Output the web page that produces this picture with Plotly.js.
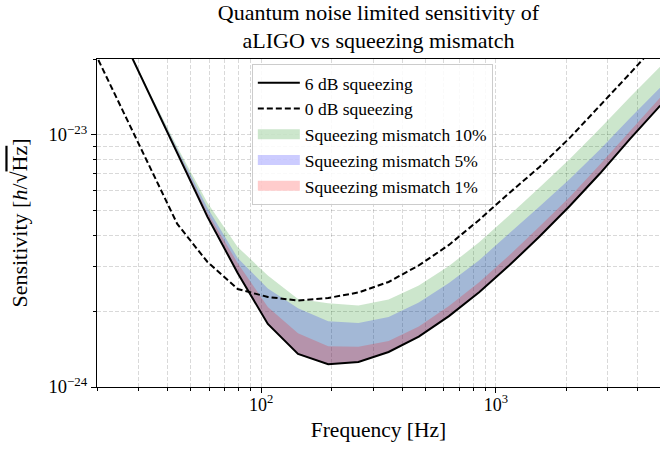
<!DOCTYPE html>
<html><head><meta charset="utf-8">
<script src="https://cdn.plot.ly/plotly-3.0.1.min.js"></script>
<style>html,body{margin:0;padding:0;background:#fff}</style>
</head><body>
<div id="chart" style="width:660px;height:450px"></div>
<script>
// Frequency grid [Hz]
const freq = [18.07, 24.30, 32.68, 43.94, 59.09, 79.43, 106.8, 143.6, 193.1, 259.6,
              349.1, 469.4, 631.0, 848.5, 1141, 1534, 2063, 2774, 3728, 5012];
// Sensitivity [1/sqrt(Hz)]
const sq6dB = [48.6e-24, 27.2e-24, 15.18e-24, 8.48e-24, 4.73e-24, 2.835e-24, 1.778e-24, 1.352e-24, 1.231e-24, 1.256e-24,
               1.377e-24, 1.585e-24, 1.911e-24, 2.376e-24, 3.038e-24, 3.951e-24, 5.223e-24, 7.026e-24, 9.64e-24, 13.07e-24];
const sq0dB = [24.75e-24, 13.94e-24, 7.87e-24, 4.434e-24, 3.133e-24, 2.448e-24, 2.275e-24, 2.204e-24, 2.255e-24, 2.371e-24,
               2.610e-24, 3.035e-24, 3.66e-24, 4.60e-24, 5.886e-24, 7.46e-24, 9.73e-24, 13.03e-24, 17.54e-24, 23.76e-24];
const mis10 = [48.6e-24, 27.33e-24, 15.46e-24, 8.96e-24, 5.376e-24, 3.595e-24, 2.770e-24, 2.235e-24, 2.150e-24, 2.105e-24,
               2.225e-24, 2.526e-24, 3.018e-24, 3.752e-24, 4.798e-24, 6.183e-24, 8.024e-24, 10.60e-24, 14.15e-24, 18.67e-24];
const mis5  = [48.6e-24, 27.27e-24, 15.39e-24, 8.80e-24, 5.136e-24, 3.252e-24, 2.459e-24, 2.052e-24, 1.823e-24, 1.794e-24,
               1.896e-24, 2.162e-24, 2.583e-24, 3.183e-24, 4.069e-24, 5.197e-24, 6.684e-24, 8.749e-24, 11.68e-24, 15.41e-24];
const mis1  = [48.6e-24, 27.25e-24, 15.32e-24, 8.676e-24, 4.906e-24, 3.106e-24, 2.077e-24, 1.634e-24, 1.451e-24, 1.444e-24,
               1.523e-24, 1.737e-24, 2.094e-24, 2.603e-24, 3.328e-24, 4.329e-24, 5.671e-24, 7.629e-24, 10.37e-24, 14.06e-24];

const seriesNames = ['6 dB squeezing', '0 dB squeezing', 'Squeezing mismatch 10%', 'Squeezing mismatch 5%', 'Squeezing mismatch 1%'];
const xMajorTicks = [100, 1000];
const xMajorLabels = ['10<sup>2</sup>', '10<sup>3</sup>'];
const xMinorTicks = [20, 30, 40, 50, 60, 70, 80, 90, 200, 300, 400, 500, 600, 700, 800, 900, 2000, 3000, 4000];
const yMajorTicks = [1e-24, 1e-23];
const yMajorLabels = ['10<sup>\u221224</sup>', '10<sup>\u221223</sup>'];
const yMinorTicks = [2e-24, 3e-24, 4e-24, 5e-24, 6e-24, 7e-24, 8e-24, 9e-24, 2e-23];

const FONT = 'Liberation Serif, Times New Roman, serif';
const bands = [
  {y: mis10, color: 'rgba(0,128,0,0.2)', name: seriesNames[2], rank: 3},
  {y: mis5,  color: 'rgba(0,0,255,0.2)', name: seriesNames[3], rank: 4},
  {y: mis1,  color: 'rgba(255,0,0,0.2)', name: seriesNames[4], rank: 5}
];
const data = [];
bands.forEach((b) => {
  data.push({x: freq, y: sq6dB, type: 'scatter', mode: 'lines', line: {width: 0, color: 'rgba(0,0,0,0)'},
             showlegend: false, hoverinfo: 'skip'});
  data.push({x: freq, y: b.y, type: 'scatter', mode: 'none', fill: 'tonexty', fillcolor: b.color,
             showlegend: false, hoverinfo: 'skip'});
});
data.push({x: freq, y: sq6dB, type: 'scatter', mode: 'lines', line: {color: '#000', width: 2},
           name: seriesNames[0], legendrank: 1});
data.push({x: freq, y: sq0dB, type: 'scatter', mode: 'lines', line: {color: '#000', width: 2, dash: '6px,3px'},
           name: seriesNames[1], legendrank: 2});
// legend swatches for the shaded bands
bands.forEach((b) => {
  data.push({x: [null], y: [null], type: 'scatter', mode: 'lines', line: {color: b.color, width: 13},
             name: b.name, legendrank: b.rank, showlegend: true});
});

const gridStyle = {gridcolor: 'rgba(0,0,0,0.15)', gridwidth: 1, griddash: '4px,2px'};
const layout = {
  width: 660, height: 450,
  margin: {l: 97, r: 0, t: 59, b: 63},
  paper_bgcolor: '#fff', plot_bgcolor: '#fff',
  hovermode: false,
  font: {family: FONT, color: '#000', size: 18},
  title: {text: 'Quantum noise limited sensitivity of<br>aLIGO vs squeezing mismatch',
          font: {family: FONT, size: 22, color: '#000'},
          x: 0.5, xanchor: 'center', xref: 'paper', y: 0.956, yanchor: 'top', yref: 'container'},
  xaxis: Object.assign({
    type: 'log', range: [Math.log10(20), Math.log10(5000)],
    tickmode: 'array', tickvals: xMajorTicks, ticktext: xMajorLabels,
    ticks: 'outside', ticklen: 5, tickwidth: 1, tickcolor: '#000',
    tickfont: {family: FONT, size: 18}, ticklabelstandoff: -4,
    showline: true, linecolor: '#000', linewidth: 1, mirror: true, zeroline: false,
    showgrid: true,
    minor: Object.assign({tickmode: 'array', tickvals: xMinorTicks, ticks: 'outside', ticklen: 3, tickwidth: 1, tickcolor: '#000', showgrid: true}, gridStyle),
    title: {text: 'Frequency [Hz]', font: {family: FONT, size: 21.5}, standoff: 8}
  }, gridStyle),
  yaxis: Object.assign({
    type: 'log', range: [-24, Math.log10(2e-23)],
    tickmode: 'array', tickvals: yMajorTicks, ticktext: yMajorLabels,
    ticks: 'outside', ticklen: 5, tickwidth: 1, tickcolor: '#000',
    tickfont: {family: FONT, size: 18.5},
    showline: true, linecolor: '#000', linewidth: 1, mirror: true, zeroline: false,
    showgrid: true,
    minor: Object.assign({tickmode: 'array', tickvals: yMinorTicks, ticks: 'outside', ticklen: 3, tickwidth: 1, tickcolor: '#000', showgrid: true}, gridStyle),
    title: {text: 'Sensitivity [<i>h</i>/\u221a<span style="text-decoration:overline">Hz</span>]', font: {family: FONT, size: 22}, standoff: 14}
  }, gridStyle),
  legend: {x: 0.275, y: 0.985, xanchor: 'left', yanchor: 'top', xref: 'paper', yref: 'paper',
           bgcolor: 'rgba(255,255,255,0.85)', bordercolor: '#cccccc', borderwidth: 1,
           font: {family: FONT, size: 17.5, color: '#000'},
           itemwidth: 42, traceorder: 'normal'}
};
Plotly.newPlot('chart', data, layout, {staticPlot: true, displayModeBar: false});
</script>
</body></html>
